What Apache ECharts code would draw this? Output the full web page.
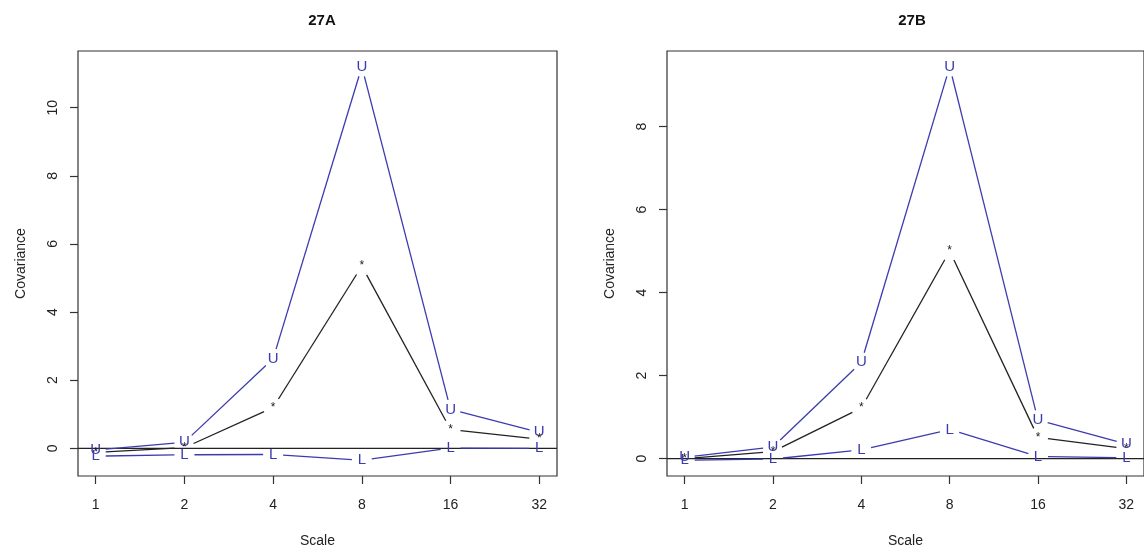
<!DOCTYPE html>
<html>
<head>
<meta charset="utf-8">
<script src="https://cdn.jsdelivr.net/npm/echarts@6/dist/echarts.min.js"></script>
<style>html,body{margin:0;padding:0;background:#fff}#c{width:1144px;height:553px}</style>
</head>
<body>
<div id="c"></div>
<script>
// ---- data ----
const scaleLabels = ['1', '2', '4', '8', '16', '32'];
const scalePos = [1, 2, 3, 4, 5, 6];
const titleA = '27A';
const titleB = '27B';
const aUpper = [-0.05, 0.18, 2.63, 11.2, 1.14, 0.47];
const aEst   = [-0.12, 0.02, 1.20, 5.35, 0.55, 0.27];
const aLower = [-0.23, -0.19, -0.18, -0.35, 0.01, 0.00];
const bUpper = [0.03, 0.28, 2.32, 9.44, 0.93, 0.35];
const bEst   = [0.00, 0.17, 1.22, 5.00, 0.51, 0.24];
const bLower = [-0.04, -0.01, 0.21, 0.70, 0.05, 0.02];
const aYTicks = [0, 2, 4, 6, 8, 10];
const bYTicks = [0, 2, 4, 6, 8];

// ---- helpers ----
const FONT = '"Liberation Sans", Arial, sans-serif';
const BLUE = '#3b3bb0';
function rRange(arrs) {
  const all = [].concat(...arrs);
  const mn = Math.min(...all), mx = Math.max(...all);
  const d = (mx - mn) * 0.04;
  return [mn - d, mx + d];
}
const xMin = 0.8, xMax = 6.2;
const aR = rRange([aUpper, aEst, aLower]);
const bR = rRange([bUpper, bEst, bLower]);

function bSeries(name, vals, ch, color, font, idx) {
  return {
    type: 'custom', name: name, xAxisIndex: idx, yAxisIndex: idx,
    data: vals.map((v, i) => [scalePos[i], v]),
    renderItem: function (params, api) {
      const i = params.dataIndex;
      const p = api.coord([api.value(0), api.value(1)]);
      const children = [{
        type: 'text',
        style: { x: p[0], y: p[1], text: ch, fill: color, font: font, align: 'center', verticalAlign: 'middle' },
        z2: 2
      }];
      if (i < vals.length - 1) {
        const q = api.coord([scalePos[i + 1], vals[i + 1]]);
        const dx = q[0] - p[0], dy = q[1] - p[1];
        const L = Math.sqrt(dx * dx + dy * dy);
        const g = 10;
        if (L > 2 * g) {
          const ux = dx / L, uy = dy / L;
          children.push({
            type: 'line',
            shape: { x1: p[0] + ux * g, y1: p[1] + uy * g, x2: q[0] - ux * g, y2: q[1] - uy * g },
            style: { stroke: color, lineWidth: 1.3 }
          });
        }
      }
      return { type: 'group', children: children };
    }
  };
}
function zeroLine(idx) {
  return {
    type: 'custom', xAxisIndex: idx, yAxisIndex: idx, data: [[0]], silent: true,
    renderItem: function (params, api) {
      const a = api.coord([xMin, 0]), b = api.coord([xMax, 0]);
      return { type: 'line', shape: { x1: a[0], y1: a[1], x2: b[0], y2: b[1] }, style: { stroke: '#222', lineWidth: 1.2 } };
    }
  };
}
function xAxis(idx) {
  return {
    type: 'value', gridIndex: idx, min: xMin, max: xMax, position: 'bottom',
    name: 'Scale', nameLocation: 'middle', nameGap: 58,
    nameTextStyle: { fontFamily: FONT, fontSize: 14, color: '#222' },
    axisLine: { show: false, onZero: false }, splitLine: { show: false },
    axisTick: { show: true, inside: false, length: 8, customValues: scalePos, lineStyle: { color: '#333', width: 1.2 } },
    axisLabel: { customValues: scalePos, margin: 22, fontFamily: FONT, fontSize: 14, color: '#222',
      formatter: v => scaleLabels[scalePos.indexOf(v)] }
  };
}
function yAxis(idx, r, ticks) {
  return {
    type: 'value', gridIndex: idx, min: r[0], max: r[1], position: 'left',
    name: 'Covariance', nameLocation: 'middle', nameGap: 50,
    nameTextStyle: { fontFamily: FONT, fontSize: 14, color: '#222' },
    axisLine: { show: false, onZero: false }, splitLine: { show: false },
    axisTick: { show: true, inside: false, length: 8, customValues: ticks, lineStyle: { color: '#333', width: 1.2 } },
    axisLabel: { customValues: ticks, rotate: 90, margin: 18, fontFamily: FONT, fontSize: 14, color: '#222' }
  };
}

const chart = echarts.init(document.getElementById('c'), null, { renderer: 'canvas' });
chart.setOption({
  backgroundColor: '#fff',
  animation: false,
  title: [
    { text: titleA, left: 317, top: 8, textAlign: 'center', textStyle: { fontFamily: FONT, fontSize: 15, fontWeight: 'bold', color: '#111' } },
    { text: titleB, left: 907, top: 8, textAlign: 'center', textStyle: { fontFamily: FONT, fontSize: 15, fontWeight: 'bold', color: '#111' } }
  ],
  grid: [
    { left: 78, top: 51, width: 479, height: 427, show: true, borderColor: '#333', borderWidth: 1.2, backgroundColor: 'transparent' },
    { left: 667, top: 51, width: 481, height: 427, show: true, borderColor: '#333', borderWidth: 1.2, backgroundColor: 'transparent' }
  ],
  xAxis: [xAxis(0), xAxis(1)],
  yAxis: [yAxis(0, aR, aYTicks), yAxis(1, bR, bYTicks)],
  series: [
    zeroLine(0), zeroLine(1),
    bSeries('Upper A', aUpper, 'U', BLUE, '15px ' + FONT, 0),
    bSeries('Estimate A', aEst, '*', '#222', '12px ' + FONT, 0),
    bSeries('Lower A', aLower, 'L', BLUE, '15px ' + FONT, 0),
    bSeries('Upper B', bUpper, 'U', BLUE, '15px ' + FONT, 1),
    bSeries('Estimate B', bEst, '*', '#222', '12px ' + FONT, 1),
    bSeries('Lower B', bLower, 'L', BLUE, '15px ' + FONT, 1)
  ]
});
</script>
</body>
</html>
